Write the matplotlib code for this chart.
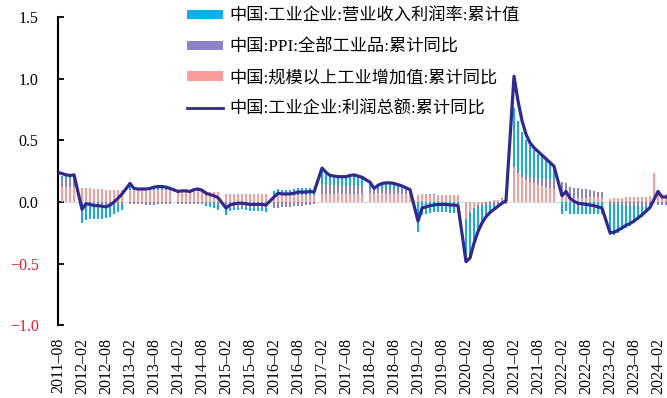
import numpy as np
import pandas as pd
import matplotlib
matplotlib.use("Agg")
import matplotlib.pyplot as plt
from matplotlib.patches import Patch
from matplotlib.lines import Line2D

# ---------------------------------------------------------
# Data (monthly, 2011-08 .. 2024-04; January has no cumulative print)
# ---------------------------------------------------------
months = pd.period_range("2011-08", "2024-04", freq="M")

# 中国:工业企业:利润总额:累计同比 (line)
profit_yoy = [
    0.24, 0.23, 0.22, 0.215, 0.22,
    None, -0.06, -0.015, -0.02, -0.03, -0.03, -0.035, -0.04, -0.025, 0.0, 0.03, 0.065,
    None, 0.15, 0.11, 0.105, 0.105, 0.105, 0.11, 0.12, 0.125, 0.125, 0.12, 0.11,
    None, 0.085, 0.09, 0.09, 0.085, 0.10, 0.105, 0.095, 0.07, 0.06, 0.05, 0.035,
    None, -0.05, -0.025, -0.015, -0.01, -0.01, -0.015, -0.02, -0.02, -0.02, -0.02, -0.025,
    None, 0.04, 0.07, 0.065, 0.065, 0.065, 0.07, 0.08, 0.08, 0.08, 0.085, 0.08,
    None, 0.275, 0.24, 0.215, 0.21, 0.205, 0.205, 0.205, 0.215, 0.22, 0.21, 0.20,
    None, 0.16, 0.11, 0.135, 0.15, 0.155, 0.155, 0.15, 0.14, 0.13, 0.115, 0.10,
    None, -0.155, -0.05, -0.04, -0.03, -0.025, -0.02, -0.02, -0.02, -0.025, -0.025, -0.03,
    None, -0.485, -0.455, -0.335, -0.24, -0.17, -0.12, -0.085, -0.06, -0.035, -0.01, 0.01,
    None, 1.02, 0.82, 0.66, 0.55, 0.48, 0.44, 0.41, 0.38, 0.35, 0.32, 0.29,
    None, 0.05, 0.085, 0.03, 0.005, -0.01, -0.015, -0.02, -0.025, -0.03, -0.04, -0.05,
    None, -0.25, -0.245, -0.23, -0.21, -0.19, -0.175, -0.155, -0.13, -0.105, -0.075, -0.045,
    None, 0.085, 0.04, 0.04,
]

# 中国:规模以上工业增加值:累计同比 (pink bars)
va_yoy = [
    0.12, 0.12, 0.12, 0.12, 0.12,
    None, 0.115, 0.115, 0.11, 0.105, 0.105, 0.105, 0.10, 0.10, 0.10, 0.10, 0.10,
    None, 0.099, 0.095, 0.094, 0.096, 0.093, 0.094, 0.095, 0.096, 0.097, 0.097, 0.097,
    None, 0.086, 0.087, 0.087, 0.087, 0.088, 0.088, 0.085, 0.085, 0.084, 0.083, 0.083,
    None, 0.068, 0.064, 0.062, 0.063, 0.063, 0.063, 0.063, 0.062, 0.061, 0.061, 0.061,
    None, 0.054, 0.058, 0.058, 0.059, 0.06, 0.06, 0.06, 0.06, 0.06, 0.06, 0.06,
    None, 0.063, 0.068, 0.067, 0.067, 0.069, 0.068, 0.067, 0.067, 0.067, 0.066, 0.066,
    None, 0.072, 0.068, 0.069, 0.069, 0.067, 0.066, 0.065, 0.064, 0.064, 0.063, 0.062,
    None, 0.053, 0.065, 0.062, 0.06, 0.06, 0.058, 0.056, 0.056, 0.056, 0.056, 0.057,
    None, -0.135, -0.084, -0.049, -0.028, -0.013, -0.004, 0.004, 0.012, 0.018, 0.023, 0.028,
    None, 0.28, 0.235, 0.205, 0.18, 0.165, 0.15, 0.14, 0.13, 0.12, 0.11, 0.105,
    None, 0.075, 0.065, 0.04, 0.033, 0.034, 0.035, 0.036, 0.039, 0.04, 0.038, 0.036,
    None, 0.024, 0.03, 0.036, 0.036, 0.038, 0.038, 0.039, 0.04, 0.041, 0.043, 0.046,
    0.235, 0.07, 0.061, 0.063,
]

# 中国:PPI:全部工业品:累计同比 (purple bars)
ppi_yoy = [
    0.075, 0.073, 0.072, 0.07, 0.069,
    None, 0.0, -0.003, -0.006, -0.01, -0.012, -0.015, -0.017, -0.019, -0.02, -0.02, -0.017,
    None, -0.016, -0.018, -0.019, -0.02, -0.021, -0.021, -0.021, -0.02, -0.02, -0.019, -0.019,
    None, -0.016, -0.017, -0.018, -0.018, -0.018, -0.018, -0.017, -0.017, -0.018, -0.018, -0.019,
    None, -0.046, -0.046, -0.046, -0.047, -0.048, -0.049, -0.05, -0.051, -0.052, -0.052, -0.052,
    None, -0.049, -0.048, -0.045, -0.043, -0.039, -0.036, -0.032, -0.029, -0.025, -0.021, -0.014,
    None, 0.073, 0.074, 0.072, 0.07, 0.066, 0.064, 0.064, 0.065, 0.065, 0.065, 0.063,
    None, 0.039, 0.035, 0.034, 0.036, 0.039, 0.042, 0.043, 0.043, 0.043, 0.04, 0.035,
    None, 0.001, 0.002, 0.003, 0.003, 0.003, 0.002, 0.0, -0.001, -0.002, -0.003, -0.003,
    None, -0.004, -0.006, -0.012, -0.017, -0.019, -0.021, -0.021, -0.02, -0.02, -0.019, -0.018,
    None, 0.0, 0.006, 0.017, 0.029, 0.038, 0.045, 0.052, 0.058, 0.065, 0.074, 0.081,
    None, 0.088, 0.087, 0.085, 0.081, 0.077, 0.073, 0.066, 0.059, 0.052, 0.046, 0.041,
    None, -0.014, -0.016, -0.02, -0.026, -0.031, -0.032, -0.032, -0.031, -0.031, -0.03, -0.03,
    None, -0.027, -0.027, -0.026,
]

# 中国:工业企业:营业收入利润率:累计值 (cyan bars)
margin_part = [
    0.02, 0.02, 0.02, 0.015, 0.02,
    None, -0.17, -0.14, -0.13, -0.125, -0.125, -0.12, -0.115, -0.10, -0.08, -0.06, -0.045,
    None, 0.05, 0.015, 0.012, 0.01, 0.012, 0.016, 0.025, 0.029, 0.028, 0.023, 0.013,
    None, 0.0, 0.003, 0.003, -0.002, 0.012, 0.017, 0.01, -0.015, -0.024, -0.033, -0.048,
    None, -0.06, -0.03, -0.02, -0.015, -0.013, -0.018, -0.022, -0.025, -0.025, -0.025, -0.028,
    None, 0.035, 0.045, 0.04, 0.04, 0.04, 0.045, 0.05, 0.05, 0.05, 0.05, 0.04,
    None, 0.14, 0.10, 0.076, 0.074, 0.07, 0.073, 0.074, 0.083, 0.088, 0.079, 0.071,
    None, 0.049, 0.007, 0.032, 0.045, 0.049, 0.047, 0.042, 0.033, 0.023, 0.012, 0.003,
    None, -0.24, -0.11, -0.10, -0.09, -0.085, -0.08, -0.08, -0.08, -0.085, -0.085, -0.09,
    None, -0.33, -0.35, -0.27, -0.185, -0.133, -0.09, -0.06, -0.04, -0.02, 0.005, 0.015,
    None, 0.48, 0.419, 0.348, 0.291, 0.257, 0.225, 0.198, 0.182, 0.155, 0.136, 0.084,
    None, -0.10, -0.07, -0.095, -0.095, -0.095, -0.095, -0.095, -0.095, -0.095, -0.10, -0.10,
    None, -0.256, -0.249, -0.23, -0.204, -0.179, -0.163, -0.138, -0.114, -0.089, -0.06, -0.03,
    None, 0.02, 0.005, 0.0,
]

LABEL_MARGIN = "中国:工业企业:营业收入利润率:累计值"
LABEL_PPI = "中国:PPI:全部工业品:累计同比"
LABEL_VA = "中国:规模以上工业增加值:累计同比"
LABEL_PROFIT = "中国:工业企业:利润总额:累计同比"

C_CYAN = "#10AEEA"
C_PURPLE = "#8C84C6"
C_PINK = "#FA9C9C"
C_LINE = "#2F2A8C"
C_RED = "#E8202E"

SERIF = ["Liberation Serif", "Noto Sans CJK SC"]
plt.rcParams["font.family"] = SERIF
plt.rcParams["axes.unicode_minus"] = True

# ---------------------------------------------------------
# Plot
# ---------------------------------------------------------
x = np.arange(len(months))

fig = plt.figure(figsize=(6.67, 3.98), dpi=100)
ax = fig.add_axes([0.087, 0.183, 0.913, 0.774])

ax.axhline(0, color="#d9d9d9", lw=0.8, zorder=1)

# stacked bars: pink at bottom, then purple, then cyan
pos_base = np.zeros(len(x))
neg_base = np.zeros(len(x))
for vals, col in [(va_yoy, C_PINK), (ppi_yoy, C_PURPLE), (margin_part, C_CYAN)]:
    v = np.array([np.nan if a is None else a for a in vals], dtype=float)
    v0 = np.nan_to_num(v)
    bottom = np.where(v0 >= 0, pos_base, neg_base)
    ax.bar(x, v, bottom=bottom, width=0.42, color=col, linewidth=0, zorder=2)
    pos_base += np.clip(v0, 0, None)
    neg_base += np.clip(v0, None, 0)

py = np.array([np.nan if a is None else a for a in profit_yoy], dtype=float)
ok = ~np.isnan(py)
ax.plot(x[ok], py[ok], color=C_LINE, lw=2.3, zorder=3, solid_joinstyle="round")

ax.set_xlim(0, 152.25)
ax.set_ylim(-1.0, 1.5)

# y axis
yt = [-1.0, -0.5, 0.0, 0.5, 1.0, 1.5]
ax.set_yticks(yt)
ax.set_yticklabels([f"{v:.1f}".replace("-", "\u2212") for v in yt])
for lab, v in zip(ax.get_yticklabels(), yt):
    lab.set_color(C_RED if v < 0 else "black")
ax.tick_params(axis="y", direction="in", length=4, width=1.3, pad=14, labelsize=11.5)

# x axis
xt = x[::6]
ax.set_xticks(xt)
ax.set_xticklabels([f"{months[i].year}\u2013{months[i].month:02d}" for i in xt],
                   rotation=90, va="top", ha="center")
ax.tick_params(axis="x", length=0, pad=9, labelsize=11.5)

for s in ["top", "right", "bottom"]:
    ax.spines[s].set_visible(False)
ax.spines["left"].set_linewidth(1.5)
ax.spines["left"].set_color("black")

handles = [
    Patch(facecolor=C_CYAN, edgecolor="none"),
    Patch(facecolor=C_PURPLE, edgecolor="none"),
    Patch(facecolor=C_PINK, edgecolor="none"),
    Line2D([0], [0], color=C_LINE, lw=2.0),
]
labels = [LABEL_MARGIN, LABEL_PPI, LABEL_VA, LABEL_PROFIT]
leg = ax.legend(handles, labels, loc="upper left", bbox_to_anchor=(0.2, 1.05),
                frameon=False, fontsize=12.4, handlelength=2.1, handleheight=0.5,
                handletextpad=0.4, labelspacing=0.85, borderaxespad=0)

fig.savefig("out.png", dpi=100)
